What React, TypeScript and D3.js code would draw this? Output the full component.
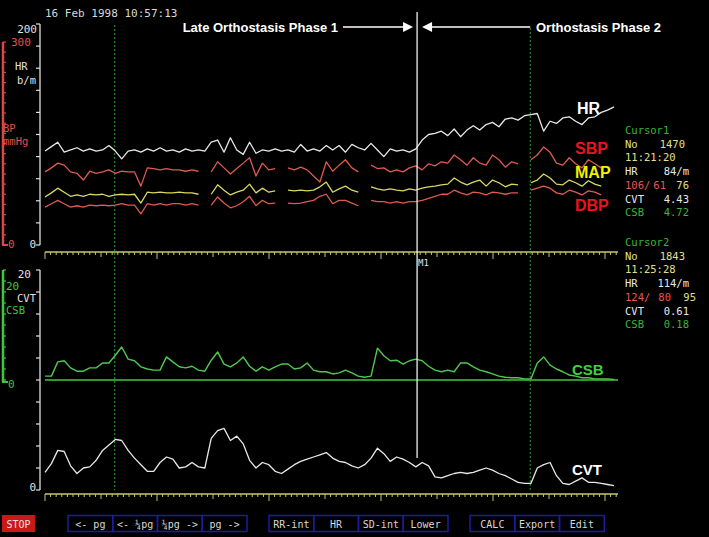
import React, { useEffect, useRef } from 'react';
import * as d3 from 'd3';

// beat-by-beat traces, one value per sample column
const hr = [85, 89, 93, 84, 86, 88, 85, 87, 85, 86,
  90, 85, 78, 85, 86, 84, 87, 85, 88, 85,
  86, 84, 87, 85, 86, 85, 93, 95, 84, 97,
  86, 82, 93, 83, 86, 85, 87, 85, 86, 84,
  91, 85, 87, 85, 90, 86, 90, 84, 91, 88,
  86, 92, 86, 80, 87, 85, 86, 84, 87, 95,
  100, 101, 103, 99, 105, 98, 104, 108, 104, 109,
  111, 107, 114, 115, 113, 117, 118, 119, 103, 112,
  110, 115, 116, 112, 109, 115, 116, 120, 122, 125];

const sbp = [108, 114, 121, 118, 108, 106, 96, 109, 106, 108,
  111, 106, 109, 108, 108, 87, 114, 113, 111, 113,
  111, 111, 109, 111, 109, null, 108, 123, 114, 105,
  113, 121, 129, 102, 121, 111, 113, null, 114, 111,
  115, 111, 102, 93, 123, 109, 118, 126, 114, 108,
  null, 118, 113, 114, 108, 111, 108, 114, 117, 111,
  120, 117, 123, 121, 133, 126, 118, 129, 121, 118,
  133, 126, 115, 123, 120, null, 126, 133, 145, 137,
  121, 118, 129, 120, 114, 126, 120, 114, null, 118];

const map = [71, 77, 84, 78, 72, 74, 72, 75, 74, 75,
  72, 74, 75, 74, 75, 62, 78, 77, 78, 77,
  77, 78, 77, 77, 75, null, 75, 89, 81, 74,
  78, 81, 90, 77, 84, 78, 80, null, 81, 80,
  81, 80, 81, 86, 93, 78, 83, 87, 81, 78,
  null, 86, 83, 81, 83, 81, 80, 83, 81, 84,
  86, 87, 89, 90, 99, 93, 89, 93, 96, 87,
  96, 92, 86, 90, 89, null, 92, 96, 105, 99,
  90, 89, 96, 92, 87, 95, 90, 87, null, 87];

const dbp = [56, 61, 66, 61, 56, 58, 56, 59, 58, 59,
  58, 59, 61, 59, 59, 46, 61, 59, 61, 59,
  61, 61, 59, 61, 59, null, 59, 71, 62, 55,
  58, 64, 72, 58, 66, 61, 62, null, 62, 61,
  62, 64, 66, 72, 75, 61, 66, 66, 62, 58,
  null, 66, 64, 64, 62, 64, 62, 64, 64, 66,
  69, 72, 75, 75, 81, 77, 74, 78, 77, 74,
  78, 77, 75, 77, 77, null, 81, 84, 87, 84,
  77, 75, 81, 78, 74, 80, 78, 74, null, 77];

const csb = [0.7, 0.7, 3.3, 3.5, 2.2, 1.6, 1.6, 2.2, 2.2, 3.1,
  3.1, 4.5, 6.0, 3.8, 3.5, 2.4, 2.0, 1.8, 1.8, 4.2,
  3.3, 2.4, 2.2, 2.5, 1.8, 1.6, 3.6, 5.1, 2.9, 2.4,
  3.1, 4.2, 2.5, 1.6, 2.4, 1.8, 2.4, 2.9, 2.9, 2.0,
  2.2, 3.1, 1.8, 1.5, 1.5, 1.1, 1.3, 1.8, 1.3, 0.7,
  0.5, 0.7, 5.8, 4.4, 3.5, 3.6, 2.9, 3.5, 3.8, 3.5,
  2.5, 1.8, 1.5, 1.8, 1.5, 3.1, 3.1, 2.4, 1.8, 1.5,
  1.1, 0.7, 0.5, 0.4, 0.4, 0.2, 0.2, 3.1, 4.2, 2.7,
  2.0, 1.5, 0.9, 0.7, 0.4, 0.4, 0.2, 0.2, 0.2, 0.1];

const cvt = [1.6, 2.4, 3.6, 3.5, 2.2, 1.5, 2.0, 2.1, 2.7, 3.6,
  4.1, 4.6, 4.5, 3.6, 2.9, 2.3, 1.7, 1.7, 2.5, 3.0,
  2.8, 2.0, 2.1, 2.5, 2.1, 2.0, 4.7, 5.4, 5.6, 4.5,
  4.9, 4.2, 2.7, 2.0, 2.5, 2.3, 1.7, 1.5, 1.9, 2.3,
  2.6, 2.8, 3.0, 3.2, 3.4, 2.9, 2.6, 2.5, 2.2, 2.0,
  2.3, 2.9, 3.8, 3.3, 2.6, 3.0, 2.8, 2.5, 2.1, 2.5,
  2.2, 1.2, 1.1, 1.3, 1.5, 1.6, 1.5, 1.6, 1.8, 2.0,
  1.8, 1.5, 1.3, 1.0, 0.7, 0.6, 0.6, 2.0, 2.3, 2.5,
  1.3, 0.6, 0.5, 0.8, 1.1, 0.7, 0.7, 0.6, 0.5, 0.4];

// cursors (sample column) and marker
const cursorIdx = [10.9, 75.9];
const markerIdx = 58.2;
const cursorNames = ['Cursor1', 'Cursor2'];
const cursorNo = ['1470', '1843'];
const cursorTime = ['11:21:20', '11:25:28'];
const cursorHR = ['84/m', '114/m'];
const cursorSys = ['106/', '124/'];
const cursorDia = ['61', '80'];
const cursorMean = ['76', '95'];
const cursorCVT = ['4.43', '0.61'];
const cursorCSB = ['4.72', '0.18'];

const buttonGroups = [
  ['<- pg', '<- ¼pg', '¼pg ->', 'pg ->'],
  ['RR-int', 'HR', 'SD-int', 'Lower'],
  ['CALC', 'Export', 'Edit'],
];

const W = 709;
const H = 537;

export default function App() {
  const ref = useRef<SVGSVGElement>(null);

  useEffect(() => {
    const svg = d3.select(ref.current);
    svg.selectAll('*').remove();
    svg.append('rect').attr('width', W).attr('height', H).attr('fill', '#000');

    const mono = '"DejaVu Sans Mono", monospace';
    const sans = '"Liberation Sans", Arial, sans-serif';

    const x = d3.scaleLinear().domain([0, hr.length - 1]).range([45, 614]);
    const hrY = d3.scaleLinear().domain([0, 200]).range([245, 24]);
    const bpY = d3.scaleLinear().domain([0, 300]).range([245, 42]);
    const csbY = d3.scaleLinear().domain([0, 20]).range([380, 270]);
    const cvtY = d3.scaleLinear().domain([0, 20]).range([490, 270]);

    const txt = (tx, ty, s, color, opts: any = {}) =>
      svg.append('text')
        .attr('x', tx).attr('y', ty)
        .attr('fill', color)
        .attr('text-anchor', opts.anchor || 'start')
        .style('font-family', opts.font || mono)
        .style('font-size', (opts.size || 10.5) + 'px')
        .style('font-weight', opts.bold ? 'bold' : 'normal')
        .text(s);

    // date
    txt(45, 17, '16 Feb 1998 10:57:13', '#d8d8d8', { size: 11 });

    // ---- left axes ----
    const whiteAxis = (y0, y1, ticks) => {
      svg.append('line').attr('x1', 40).attr('x2', 40).attr('y1', y0).attr('y2', y1)
        .attr('stroke', '#e0e0e0').attr('stroke-width', 1.3);
      svg.selectAll(null).data(ticks).enter().append('line')
        .attr('x1', 36).attr('x2', 40).attr('y1', d => d).attr('y2', d => d)
        .attr('stroke', '#e0e0e0').attr('stroke-width', 1.2);
    };
    whiteAxis(hrY(200), hrY(0), d3.range(0, 201, 20).map(d => hrY(d)));
    whiteAxis(cvtY(20), cvtY(0), d3.range(0, 21, 2).map(d => cvtY(d)));

    const colorAxis = (y0, y1, ticks, color) => {
      svg.append('line').attr('x1', 3).attr('x2', 3).attr('y1', y0).attr('y2', y1)
        .attr('stroke', color).attr('stroke-width', 2.5);
      svg.append('line').attr('x1', 2).attr('x2', 8).attr('y1', y1).attr('y2', y1)
        .attr('stroke', color).attr('stroke-width', 2);
      svg.selectAll(null).data(ticks).enter().append('line')
        .attr('x1', 3).attr('x2', 6).attr('y1', d => d).attr('y2', d => d)
        .attr('stroke', color).attr('stroke-width', 1.2);
    };
    colorAxis(bpY(300), bpY(0), d3.range(0, 301, 15).map(d => bpY(d)), '#d84848');
    colorAxis(csbY(20), csbY(0) + 2, d3.range(0, 21, 2).map(d => csbY(d)), '#3cc83c');

    txt(37, hrY(200) + 9, '200', '#e0e0e0', { anchor: 'end', size: 11 });
    txt(11, bpY(300) + 4, '300', '#e05050', { size: 11 });
    txt(15, 70, 'HR', '#e0e0e0');
    txt(17, 84, 'b/m', '#e0e0e0');
    txt(3, 132, 'BP', '#e05050');
    txt(3, 145, 'mmHg', '#e05050');
    txt(36, hrY(0) + 3, '0', '#e0e0e0', { anchor: 'end', size: 11 });
    txt(8, bpY(0) + 3, '0', '#e05050', { size: 11 });

    txt(31, cvtY(20) + 8, '20', '#e0e0e0', { anchor: 'end', size: 11 });
    txt(6, 290, '20', '#3cc83c', { size: 11 });
    txt(17, 302, 'CVT', '#e0e0e0');
    txt(6, 314, 'CSB', '#3cc83c');
    txt(8, csbY(0) + 8, '0', '#3cc83c', { size: 11 });
    txt(36, cvtY(0) + 1, '0', '#e0e0e0', { anchor: 'end', size: 11 });

    // ---- time axes ----
    const tickX = d3.scaleLinear().domain([0, 102]).range([45, 616.2]);
    const timeAxis = (ay) => {
      svg.append('line').attr('x1', 45).attr('x2', 618).attr('y1', ay).attr('y2', ay)
        .attr('stroke', '#c8c86e').attr('stroke-width', 1.4);
      svg.selectAll(null).data(d3.range(0, 103)).enter().append('line')
        .attr('x1', d => tickX(d)).attr('x2', d => tickX(d))
        .attr('y1', ay)
        .attr('y2', d => ay + (d % 20 === 0 ? 7 : d % 10 === 0 ? 5 : 3))
        .attr('stroke', '#c8c86e').attr('stroke-width', 1);
    };
    timeAxis(252);
    timeAxis(494);

    // CSB zero line
    svg.append('line').attr('x1', 45).attr('x2', 618).attr('y1', csbY(0)).attr('y2', csbY(0))
      .attr('stroke', '#3cc83c').attr('stroke-width', 1.4);

    // cursors
    svg.selectAll(null).data(cursorIdx).enter().append('line')
      .attr('x1', d => x(d)).attr('x2', d => x(d))
      .attr('y1', (d, i) => (i === 0 ? 25 : 28)).attr('y2', 490)
      .attr('stroke', '#2e9a2e').attr('stroke-width', 1)
      .attr('stroke-dasharray', '2,2');

    // ---- traces ----
    const trace = (data, yScale, color, width = 1.3) => {
      const line = d3.line<any>()
        .defined(d => d != null)
        .x((d, i) => x(i))
        .y(d => yScale(d));
      svg.append('path').datum(data)
        .attr('d', line)
        .attr('fill', 'none')
        .attr('stroke', color)
        .attr('stroke-width', width)
        .attr('stroke-linejoin', 'round');
    };
    trace(hr, hrY, '#e8e8e8');
    trace(sbp, bpY, '#dc5a50');
    trace(map, bpY, '#d8d860');
    trace(dbp, bpY, '#dc5a50');
    trace(csb, csbY, '#50c850', 1.4);
    trace(cvt, cvtY, '#e8e8e8');

    // marker M1
    svg.append('line').attr('x1', x(markerIdx)).attr('x2', x(markerIdx))
      .attr('y1', 12).attr('y2', 458)
      .attr('stroke', '#f0f0f0').attr('stroke-width', 1.3);
    txt(x(markerIdx) + 1, 266, 'M1', '#e0e0e0', { size: 9 });

    // phase annotations
    const mx = x(markerIdx);
    txt(338, 32, 'Late Orthostasis Phase 1', '#ffffff', { anchor: 'end', font: sans, size: 13, bold: true });
    txt(536, 32, 'Orthostasis Phase 2', '#ffffff', { font: sans, size: 13, bold: true });
    svg.append('line').attr('x1', 343).attr('x2', mx - 10).attr('y1', 27).attr('y2', 27)
      .attr('stroke', '#ffffff').attr('stroke-width', 1.5);
    svg.append('path').attr('d', `M${mx - 4},27L${mx - 14},22L${mx - 14},32Z`).attr('fill', '#ffffff');
    svg.append('line').attr('x1', mx + 12).attr('x2', x(cursorIdx[1])).attr('y1', 27).attr('y2', 27)
      .attr('stroke', '#ffffff').attr('stroke-width', 1.5);
    svg.append('path').attr('d', `M${mx + 5},27L${mx + 15},22L${mx + 15},32Z`).attr('fill', '#ffffff');

    // trace labels
    txt(577, 114, 'HR', '#ffffff', { font: sans, size: 16, bold: true });
    txt(575, 154, 'SBP', '#e8141e', { font: sans, size: 16, bold: true });
    txt(575, 178, 'MAP', '#f0f000', { font: sans, size: 16, bold: true });
    txt(575, 211, 'DBP', '#e8141e', { font: sans, size: 16, bold: true });
    txt(572, 375, 'CSB', '#3ed23e', { font: sans, size: 15, bold: true });
    txt(572, 475, 'CVT', '#ffffff', { font: sans, size: 15, bold: true });

    // cursor readouts
    const green = '#3cb43c';
    const pale = '#e0e08a';
    const white = '#e8e8e8';
    const red = '#e05a5a';
    cursorNames.forEach((name, i) => {
      const y0 = i === 0 ? 134 : 246;
      const dy = 13.7;
      txt(625, y0, name, green);
      txt(625, y0 + dy, 'No', pale);
      txt(685, y0 + dy, cursorNo[i], pale, { anchor: 'end' });
      txt(625, y0 + 2 * dy, cursorTime[i], pale);
      txt(625, y0 + 3 * dy, 'HR', white);
      txt(689, y0 + 3 * dy, cursorHR[i], white, { anchor: 'end' });
      txt(625, y0 + 4 * dy, cursorSys[i], red);
      txt(i === 0 ? 666 : 671, y0 + 4 * dy, cursorDia[i], red, { anchor: 'end' });
      txt(i === 0 ? 689 : 696, y0 + 4 * dy, cursorMean[i], pale, { anchor: 'end' });
      txt(625, y0 + 5 * dy, 'CVT', white);
      txt(689, y0 + 5 * dy, cursorCVT[i], white, { anchor: 'end' });
      txt(625, y0 + 6 * dy, 'CSB', green);
      txt(689, y0 + 6 * dy, cursorCSB[i], green, { anchor: 'end' });
    });

    // buttons
    svg.append('rect').attr('x', 2).attr('y', 515).attr('width', 33).attr('height', 17)
      .attr('fill', '#c81818');
    txt(18.5, 527.5, 'STOP', '#f0e0e0', { anchor: 'middle', size: 10 });
    const groupX = [68, 269, 470];
    const bw = 44.75;
    buttonGroups.forEach((g, gi) => {
      g.forEach((label, bi) => {
        const bx = groupX[gi] + bi * bw;
        svg.append('rect').attr('x', bx).attr('y', 515.5).attr('width', bw).attr('height', 16)
          .attr('fill', 'none').attr('stroke', '#1c1c9c').attr('stroke-width', 1.5);
        txt(bx + bw / 2, 527.5, label, '#d8d8d8', { anchor: 'middle', size: 10 });
      });
    });
  }, []);

  return (
    <svg ref={ref} width={W} height={H}
      style={{ position: 'absolute', left: 0, top: 0, display: 'block' }} />
  );
}
